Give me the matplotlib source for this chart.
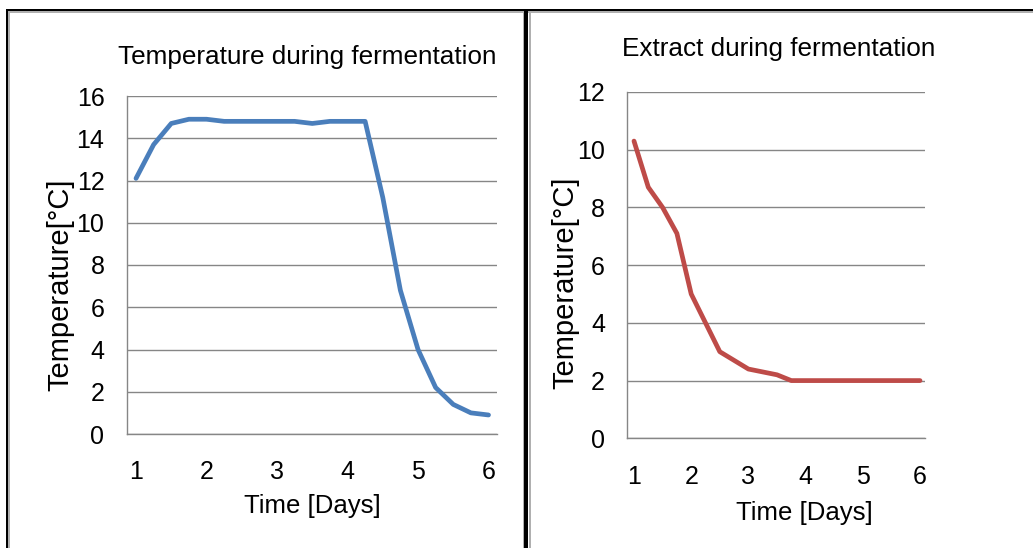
import matplotlib.pyplot as plt
from matplotlib.patches import Rectangle

plt.rcParams['font.family'] = ['Liberation Sans', 'DejaVu Sans']

# ---------------- data ----------------
days = [1.0, 1.25, 1.5, 1.75, 2.0, 2.25, 2.5, 2.75, 3.0, 3.25, 3.5,
        3.75, 4.0, 4.25, 4.5, 4.75, 5.0, 5.25, 5.5, 5.75, 6.0]
temperature = [12.1, 13.7, 14.7, 14.9, 14.9, 14.8, 14.8, 14.8, 14.8, 14.8, 14.7,
               14.8, 14.8, 14.8, 11.2, 6.8, 4.0, 2.2, 1.4, 1.0, 0.9]
extract = [10.3, 8.7, 8.0, 7.1, 5.0, 4.0, 3.0, 2.7, 2.4, 2.3, 2.2,
           2.0, 2.0, 2.0, 2.0, 2.0, 2.0, 2.0, 2.0, 2.0, 2.0]
day_ticks = [1, 2, 3, 4, 5, 6]
temp_ticks = [0, 2, 4, 6, 8, 10, 12, 14, 16]
extract_ticks = [0, 2, 4, 6, 8, 10, 12]

W, H = 1033, 548
fig = plt.figure(figsize=(W / 100, H / 100), dpi=100)


def box(x0, y0, x1, y1):
    # pixel box (top-left origin) -> figure fraction
    return [x0 / W, 1 - y1 / H, (x1 - x0) / W, (y1 - y0) / H]


def fx(x):
    return x / W


def fy(y):
    return 1 - y / H


grid_col = '#868686'


def style_axis(ax, yticks, xlim):
    ax.set_xlim(*xlim)
    ax.set_ylim(yticks[0], yticks[-1])
    ax.set_yticks(yticks)
    ax.set_xticks(day_ticks)
    ax.grid(axis='y', color=grid_col, linewidth=1.0)
    ax.set_axisbelow(True)
    for s in ['top', 'right']:
        ax.spines[s].set_visible(False)
    for s in ['left', 'bottom']:
        ax.spines[s].set_color(grid_col)
        ax.spines[s].set_linewidth(1.0)
    ax.tick_params(axis='both', length=0, labelsize=18)
    ax.tick_params(axis='x', pad=19)
    ax.tick_params(axis='y', pad=16)


# ---------------- left chart ----------------
ax1 = fig.add_axes(box(126.7, 96, 496.7, 434))
ax1.plot(days, temperature, color='#4A7EBB', linewidth=3.4, solid_capstyle='round',
         solid_joinstyle='round')
style_axis(ax1, temp_ticks, (0.868, 6.116))

fig.text(fx(307), fy(57), 'Temperature during fermentation', fontsize=18.8,
         ha='center', va='center')
fig.text(fx(60.5), fy(285), 'Temperature[°C]', fontsize=21, rotation=90,
         ha='center', va='center')
fig.text(fx(312), fy(506), 'Time [Days]', fontsize=18.5, ha='center', va='center')

# ---------------- right chart ----------------
ax2 = fig.add_axes(box(627.3, 92, 925, 438.3))
ax2.plot(days, extract, color='#BE4B48', linewidth=3.4, solid_capstyle='round',
         solid_joinstyle='round')
style_axis(ax2, extract_ticks, (0.883, 6.087))

fig.text(fx(778.5), fy(49), 'Extract during fermentation', fontsize=18.8,
         ha='center', va='center')
fig.text(fx(565), fy(283), 'Temperature[°C]', fontsize=21, rotation=90,
         ha='center', va='center')
fig.text(fx(804), fy(513), 'Time [Days]', fontsize=18.5, ha='center', va='center')

# ---------------- frame lines ----------------
frame = [
    (6, 9, W, 11, 'black'),        # top border
    (8, 11, W, 12.5, '#b0b0b0'),
    (5.7, 9, 8, H, 'black'),       # left border
    (8, 11, 10, H, '#b0b0b0'),
    (522.7, 11, 524, H, '#b0b0b0'),  # divider
    (524, 9, 528.3, H, 'black'),
    (529, 11, 530.5, H, '#b0b0b0'),
]
for x0, y0, x1, y1, c in frame:
    fig.add_artist(Rectangle((fx(x0), fy(y1)), fx(x1) - fx(x0), fy(y0) - fy(y1),
                             transform=fig.transFigure, facecolor=c,
                             edgecolor='none'))

fig.savefig('out.png', dpi=100)
